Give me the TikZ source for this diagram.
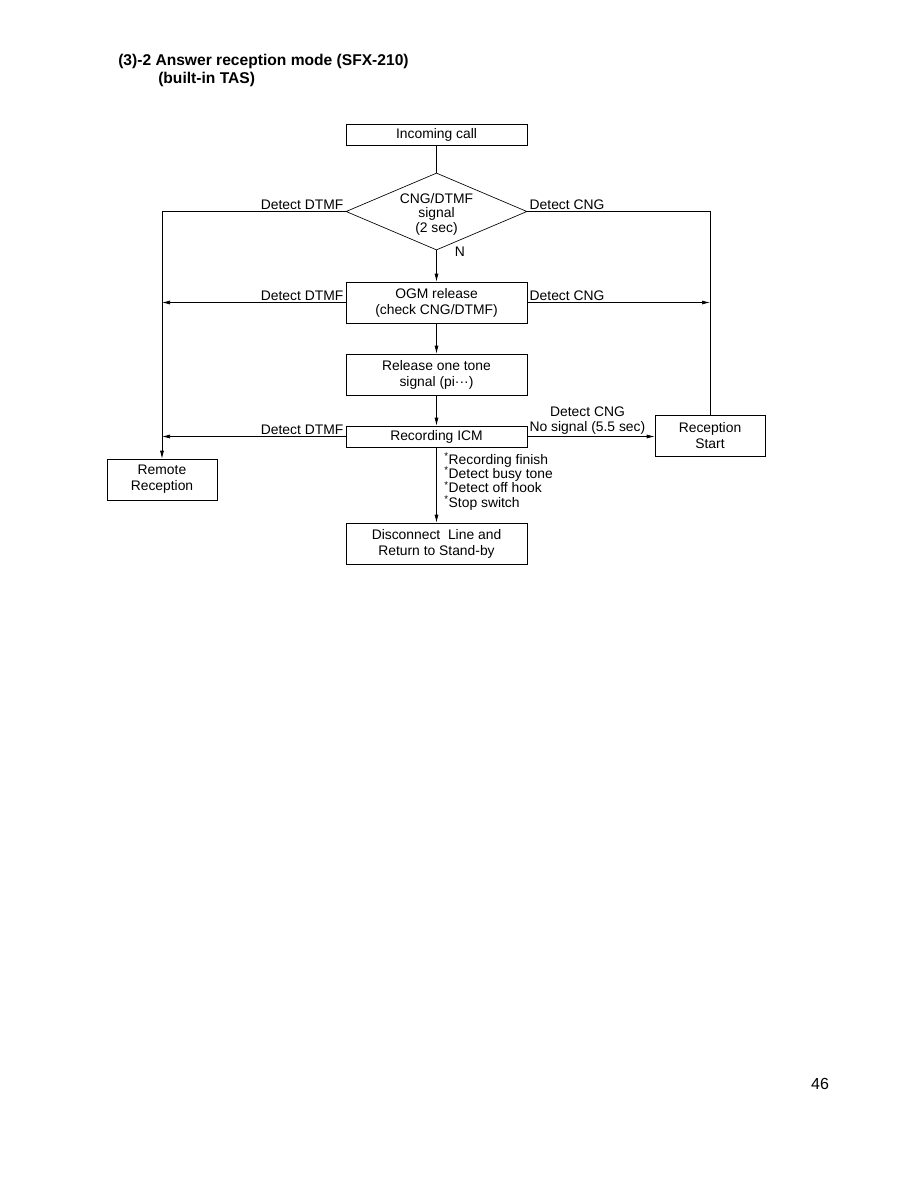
\documentclass[tikz,border=0pt]{standalone}
\usepackage{fontspec}
\setmainfont{Liberation Sans}
\usetikzlibrary{arrows.meta, positioning, shapes.geometric, calc}
\newcommand{\stopmark}{\smash{\textsuperscript{*}}}

\begin{document}
\begin{tikzpicture}[
    x=0.75pt, y=-0.75pt,
    box/.style={rectangle, draw=black, line width=0.5pt, minimum width=135.75pt, minimum height=30.75pt, align=center, inner sep=1pt, font=\fontsize{10.4}{12}\selectfont},
    slimbox/.style={box, minimum height=15.75pt},
    smallbox/.style={box, minimum width=82.5pt},
    decision/.style={diamond, draw=black, line width=0.5pt, minimum width=135.75pt, minimum height=57.75pt, inner sep=0pt},
    arrow/.style={-{Latex[length=6pt, width=3pt]}, line width=0.5pt},
    line/.style={line width=0.5pt},
    lbl/.style={font=\fontsize{10.4}{11}\selectfont, inner sep=1.5pt},
    every node/.style={font=\fontsize{10.4}{11}\selectfont}
]
\useasboundingbox (0,0) rectangle (918,1188);

% Title and page number
\node[anchor=west, font=\bfseries\fontsize{11.7}{14}\selectfont, inner sep=0pt] (title) at (118,61) {(3)-2 Answer reception mode (SFX-210)};
\node[anchor=west, font=\bfseries\fontsize{11.7}{14}\selectfont, inner sep=0pt] (subtitle) at (158,79) {(built-in TAS)};
\node[font=\fontsize{12}{14}\selectfont] (page) at (820,1084) {46};

% Boxes
\node[slimbox] (call) at (436.5,134.5) {Incoming call};
\node[decision] (chk) at (436.5,211.5) {};
\node[align=center, inner sep=0pt, font=\fontsize{10.4}{10.9}\selectfont] (chktext) at (436.5,214) {CNG/DTMF\\signal\\(2 sec)};
\node[box] (ogm) at (436.5,302.5) {OGM release\\(check CNG/DTMF)};
\node[box] (tone) at (436.5,374.5) {Release one tone\\signal (pi\textperiodcentered\textperiodcentered\textperiodcentered)};
\node[slimbox] (icm) at (436.5,436.5) {Recording ICM};
\node[box] (disc) at (436.5,543.5) {Disconnect\ \ Line and\\Return to Stand-by};
\node[smallbox] (remote) at (162,479.5) {Remote\\Reception};
\node[smallbox] (rstart) at (710,435.5) {Reception\\Start};

% Connectors
\draw[line] (call) -- (chk);
\draw[arrow] (chk) -- (ogm) node[lbl, pos=0.05, right=12pt] {N};
\draw[arrow] (chk.west) -| (remote.north) node[lbl, pos=0.0, above left] {Detect DTMF};
\draw[line] (chk.east) -| (rstart.north) node[lbl, pos=0.0, above right] {Detect CNG};
\draw[arrow] (ogm.west) -- (ogm.west -| remote) node[lbl, pos=0.0, above left] {Detect DTMF};
\draw[arrow] (ogm.east) -- (ogm.east -| rstart) node[lbl, pos=0.0, above right] {Detect CNG};
\draw[arrow] (ogm) -- (tone);
\draw[arrow] (tone) -- (icm);
\draw[arrow] (icm.west) -- (icm.west -| remote) node[lbl, pos=0.0, above left] {Detect DTMF};
\draw[arrow] (icm.east) -- (icm.east -| rstart.west) node[lbl, pos=0.0, above right, align=center] {Detect CNG\\No signal (5.5 sec)};
\draw[arrow] (icm) -- (disc);

% Conditions for disconnect
\node[anchor=north west, align=left, inner sep=0pt, font=\fontsize{10.4}{10.7}\selectfont] (stops) at (444,454) {\stopmark Recording finish\\\stopmark Detect busy tone\\\stopmark Detect off hook\\\stopmark Stop switch};

\end{tikzpicture}
\end{document}
